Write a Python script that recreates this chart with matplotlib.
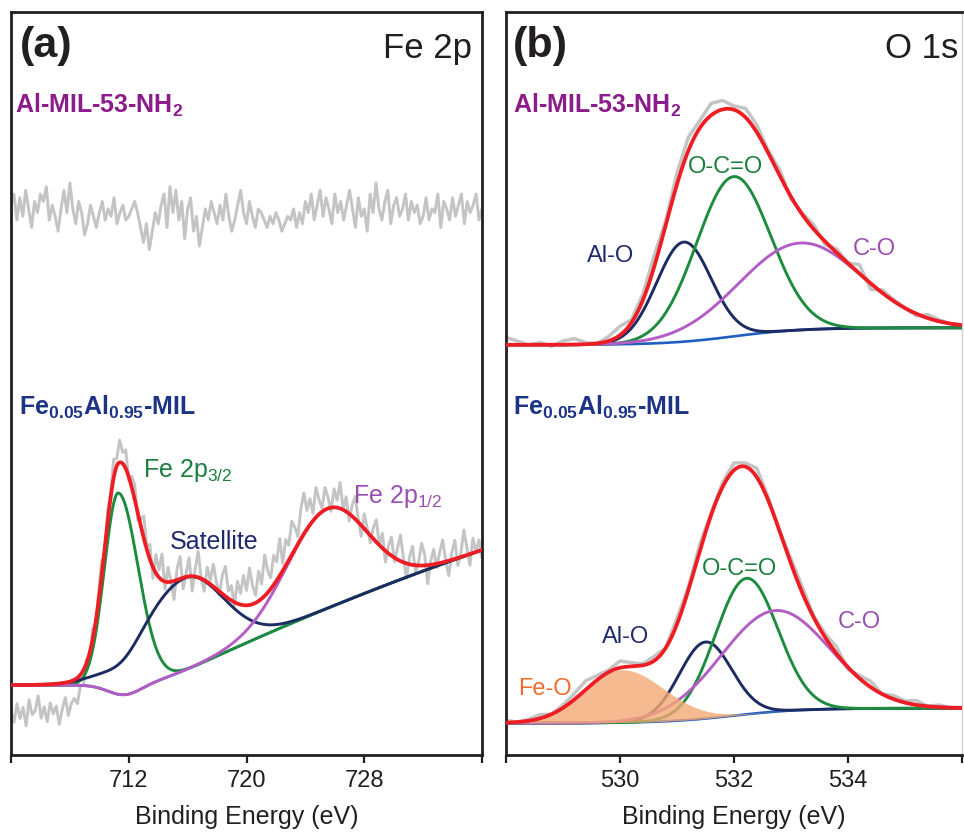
import numpy as np
import matplotlib
matplotlib.use("Agg")
import matplotlib.pyplot as plt

plt.rcParams['font.family'] = ['Liberation Sans', 'DejaVu Sans']
plt.rcParams['mathtext.default'] = 'regular'

INK = '#231f20'

# ---- panel (a) Fe 2p : fitted components (center, height, left/right sigma) ----
a_labels = ['Fe 2p$_{3/2}$', 'Satellite', 'Fe 2p$_{1/2}$']
a_center = [711.3, 715.8, 725.5]
a_height = [27.1, 12.4, 13.4]
a_sig_l = [0.95, 3.0, 2.7]
a_sig_r = [1.35, 2.6, 2.7]
# background: flat level, ramp onset, slopes, small dip
a_bg = dict(level=9.4, onset=713.8, s1=0.957, s2=0.0062, dip=1.4, dip_at=711.7, dip_w=1.1)
a_top_level = 72.5

# raw data scatter around the fits (0.2 eV step, 704..736)
a_top_noise = [1.5, 3.0, -0.5, 2.5, 0.0, 3.5, 1.0, -1.5, 2.0, 0.5, 3.0, 2.0, 4.0, -0.5, 1.5, 0.0,
               -2.0, 1.0, 3.5, 0.5, 4.5, 1.0, -1.0, 2.0, 0.5, -2.5, -1.0, 1.5, 0.0, -1.5, 0.5, 2.0,
               -0.5, 1.0, 0.0, 2.5, -1.0, 0.5, 1.5, -0.5, 0.0, 1.0, 2.0, 0.5, -1.5, -3.5, -1.0, -4.5,
               -2.0, 0.5, -1.0, 1.5, 3.0, -1.5, 4.0, 0.5, 3.5, -0.5, 2.0, -3.0, 1.0, 2.5, -2.0, 0.0,
               -4.0, -1.5, 1.0, -0.5, 2.0, 0.5, -1.0, 1.5, -0.5, 3.0, 0.0, -2.0, -0.5, 1.5, 3.5, 0.5,
               -1.0, 2.0, 0.0, -1.5, 1.0, 0.5, -0.5, -1.5, 0.0, -1.0, 0.5, -0.5, -2.0, -1.0, 0.0, -0.5,
               1.0, -1.5, 0.5, -1.0, 2.0, 0.5, 3.0, -0.5, 1.5, 3.5, 0.0, 2.5, 1.0, -1.0, 3.0, 0.5,
               2.0, -0.5, 1.5, 3.5, 1.0, -1.5, 2.5, 0.0, 1.0, -2.0, 3.0, 0.5, 4.5, 1.0, -0.5, 2.0,
               3.5, -1.0, 1.5, 2.5, 0.0, 1.0, 3.0, -0.5, 2.0, 0.5, 1.5, -1.0, 0.0, 2.5, -0.5, 1.0,
               0.5, 3.0, -1.5, 2.0, 1.0, -0.5, 2.5, 0.0, 1.5, 3.0, -1.0, 2.0, 0.5, 1.5, 3.0, -0.5, 1.0]
a_bot_noise = [-3.5, -5.0, -2.5, -4.5, -3.0, -5.5, -2.0, -4.0, -3.5, -1.5, -4.5, -3.0, -5.0, -2.5,
               -4.0, -3.0, -5.5, -3.5, -2.0, -4.5, -3.0, -2.5, -3.5, -1.5, -2.0, 0.5, -1.0, 1.5,
               -0.5, 1.0, 2.0, -1.0, 1.5, 0.5, 2.5, 1.0, 3.0, 1.5, 2.5, -0.5, 1.5, 2.0, -1.0, 1.0,
               3.0, 0.5, 2.0, -1.5, 2.5, 1.0, 3.5, -1.0, 2.0, 0.0, -2.5, 1.5, 3.0, -1.5, 0.5, 2.5,
               -2.0, 1.0, 3.5, 0.0, -1.5, 2.0, 0.5, 3.0, 1.0, -0.5, 2.5, 4.0, 1.0, 2.0, -0.5, 3.0,
               1.5, 4.0, 2.0, 5.0, 2.5, 1.0, 4.0, 2.0, 5.5, 3.0, 1.5, 4.0, 2.5, 5.0, 1.0, 3.5, 2.0,
               4.5, 3.0, 1.0, 4.0, 5.5, 2.5, 3.5, 1.0, 4.0, 2.0, 0.5, 3.0, 1.5, -0.5, 2.5, 1.0, 3.5,
               0.0, 2.0, -1.0, 1.5, 3.0, 0.5, -1.5, 2.0, 0.5, -1.0, 1.5, 3.0, 0.0, 2.0, -1.5, 1.0,
               2.5, -0.5, 1.5, 3.5, 0.5, -2.0, 1.0, 2.5, -1.0, 0.5, 3.0, 1.5, -2.5, 0.5, 2.0, -0.5,
               1.5, 3.0, 0.0, -2.0, 1.0, 2.5, -1.0, 0.5, 3.5, 1.0, -1.5, 2.0, 0.0, 1.5, -1.0]

# ---- panel (b) O 1s ----
bt_labels = ['Al-O', 'O-C=O', 'C-O']
bt_center = [531.12, 531.99, 533.16]
bt_height = [13.4, 21.5, 11.7]
bt_sigma = [0.48, 0.65, 1.07]
bt_bg = dict(low=55.2, high=57.5, mid=532.0, w=0.6)

bb_labels = ['Fe-O', 'Al-O', 'O-C=O', 'C-O']
bb_center = [530.03, 531.5, 532.22, 532.72]
bb_height = [7.1, 10.3, 18.3, 13.6]
bb_sig_l = [0.65, 0.46, 0.55, 0.95]
bb_sig_r = [0.75, 0.46, 0.55, 0.95]
bb_bg = dict(low=4.3, high=6.3, mid=532.0, w=0.6)

# raw data scatter (0.2 eV step, 528..536)
bt_noise = [1.0, 0.5, 0.0, 0.3, -0.2, 0.5, 0.8, 0.2, 0.0, 0.6, 1.2, 0.4, 0.8, 1.5, 0.6, 1.5,
            1.8, 1.0, 1.6, 1.2, 0.5, 1.2, 1.0, 0.3, 0.8, -0.3, 0.2, 0.6, -0.4, 0.5, 0.0, 1.2,
            -0.8, 0.4, 0.2, 0.0, -0.3, 0.5, 0.2, 0.0, 0.1]
bb_noise = [0.3, 0.0, 0.2, 0.5, 0.0, 0.4, 0.8, 1.2, 0.6, 0.3, 0.9, 0.5, 0.2, 0.6, 0.0, 0.8,
            0.4, 0.9, 0.3, 0.6, 1.0, 0.5, 1.2, 0.4, 0.0, 0.6, 0.8, 0.2, 0.5, 0.9, -0.3, 0.4,
            0.8, 0.0, 0.5, 0.2, 0.6, 0.0, 0.3, 0.0, 0.1]

RED = '#ee1d23'
GREEN = '#1e8c3e'
NAVY = '#1c2c62'
MAGENTA = '#b25ec4'
BLUE = '#1f5fbf'
GRAY = '#c4c4c4'


def peak(e, c, h, sl, sr):
    s = np.where(e < c, sl, sr)
    return h * np.exp(-0.5 * ((e - c) / s) ** 2)


def bg_fe(e, p):
    r = np.logaddexp(0, e - p['onset'])
    dip = p['dip'] * np.exp(-0.5 * ((e - p['dip_at']) / p['dip_w']) ** 2)
    return p['level'] + p['s1'] * r - p['s2'] * r ** 2 - dip


def bg_step(e, p):
    return p['low'] + (p['high'] - p['low']) / (1 + np.exp(-(e - p['mid']) / p['w']))


def style_axes(ax, xlim, ticks):
    ax.set_xlim(*xlim)
    ax.set_ylim(0, 100)
    ax.set_yticks([])
    ax.set_xticks(ticks)
    ax.set_xticklabels(['' if t in xlim else str(t) for t in ticks])
    ax.tick_params(axis='x', direction='out', length=6, width=1.6, colors=INK,
                   labelsize=17, pad=5)
    for s in ax.spines.values():
        s.set_linewidth(2.0)
        s.set_color(INK)
    ax.set_xlabel('Binding Energy (eV)', fontsize=18, color=INK, labelpad=9)


fig = plt.figure(figsize=(9.64, 8.33), dpi=100)
ax_a = fig.add_axes([11 / 964, 78 / 833, 471 / 964, 743 / 833])
ax_b = fig.add_axes([506 / 964, 78 / 833, 456 / 964, 743 / 833])

# ---------------- (a) ----------------
e = np.linspace(704, 736, 1200)
bg = bg_fe(e, a_bg)
comps = [peak(e, c, h, l, r) for c, h, l, r in zip(a_center, a_height, a_sig_l, a_sig_r)]
env = bg + sum(comps)

e_raw = np.linspace(704, 736, len(a_bot_noise))
raw = bg_fe(e_raw, a_bg) + sum(peak(e_raw, c, h, l, r) for c, h, l, r in
                              zip(a_center, a_height, a_sig_l, a_sig_r)) + np.array(a_bot_noise)
ax_a.plot(e_raw, raw, color=GRAY, lw=2.1, zorder=1)
e_top = np.linspace(704, 736, len(a_top_noise))
ax_a.plot(e_top, a_top_level + np.array(a_top_noise), color=GRAY, lw=2.1, zorder=1)

ax_a.plot(e, bg, color=BLUE, lw=1.9, zorder=2)
for comp, col in zip(comps, [GREEN, NAVY, MAGENTA]):
    ax_a.plot(e, bg + comp, color=col, lw=2.1, zorder=3)
ax_a.plot(e, env, color=RED, lw=2.7, zorder=4)

style_axes(ax_a, (704, 736), [704, 712, 720, 728, 736])

ax_a.text(0.019, 0.939, '(a)', transform=ax_a.transAxes, fontsize=31, fontweight='bold', color=INK)
ax_a.text(0.979, 0.938, 'Fe 2p', transform=ax_a.transAxes, fontsize=25, ha='right', color=INK)
ax_a.text(0.0085, 0.864, 'Al-MIL-53-NH$_2$', transform=ax_a.transAxes, fontsize=18,
          fontweight='bold', color='#8c1c8c')
ax_a.text(0.016, 0.4576, 'Fe$_{0.05}$Al$_{0.95}$-MIL', transform=ax_a.transAxes, fontsize=18,
          fontweight='bold', color='#1c3386')
ax_a.text(0.28, 0.374, a_labels[0], transform=ax_a.transAxes, fontsize=18, color='#1b7f3e')
ax_a.text(0.3376, 0.277, a_labels[1], transform=ax_a.transAxes, fontsize=18, color='#1f2a6e')
ax_a.text(0.726, 0.339, a_labels[2], transform=ax_a.transAxes, fontsize=18, color='#9a4fb0')

# ---------------- (b) ----------------
eb = np.linspace(528, 536, 800)
eb_raw = np.linspace(528, 536, len(bt_noise))

# top: Al-MIL-53-NH2
bgt = bg_step(eb, bt_bg)
ct = [peak(eb, c, h, s, s) for c, h, s in zip(bt_center, bt_height, bt_sigma)]
rawt = bg_step(eb_raw, bt_bg) + sum(peak(eb_raw, c, h, s, s) for c, h, s in
                                    zip(bt_center, bt_height, bt_sigma)) + np.array(bt_noise)
ax_b.plot(eb_raw, rawt, color=GRAY, lw=2.5, zorder=1)
ax_b.plot(eb, bgt, color=BLUE, lw=1.9, zorder=2)
for comp, col in zip(ct, [NAVY, GREEN, MAGENTA]):
    ax_b.plot(eb, bgt + comp, color=col, lw=2.1, zorder=3)
ax_b.plot(eb, bgt + sum(ct), color=RED, lw=2.7, zorder=5)

# bottom: Fe0.05Al0.95-MIL
bgb = bg_step(eb, bb_bg)
cb = [peak(eb, c, h, l, r) for c, h, l, r in zip(bb_center, bb_height, bb_sig_l, bb_sig_r)]
rawb = bg_step(eb_raw, bb_bg) + sum(peak(eb_raw, c, h, l, r) for c, h, l, r in
                                    zip(bb_center, bb_height, bb_sig_l, bb_sig_r)) + np.array(bb_noise)
ax_b.plot(eb_raw, rawb, color=GRAY, lw=2.5, zorder=1)
ax_b.plot(eb, bgb, color=BLUE, lw=1.9, zorder=2)
for comp, col in zip(cb[1:], [NAVY, GREEN, MAGENTA]):
    ax_b.plot(eb, bgb + comp, color=col, lw=2.1, zorder=3)
ax_b.fill_between(eb, bgb, bgb + cb[0], color='#f4a974', alpha=0.8, lw=0, zorder=4)
ax_b.plot(eb, bgb + sum(cb), color=RED, lw=2.7, zorder=5)

style_axes(ax_b, (528, 536), [528, 530, 532, 534, 536])
ax_b.spines['right'].set_color('#d0d0d0')
ax_b.spines['right'].set_linewidth(1.0)

ax_b.text(0.015, 0.939, '(b)', transform=ax_b.transAxes, fontsize=31, fontweight='bold', color=INK)
ax_b.text(0.991, 0.938, 'O 1s', transform=ax_b.transAxes, fontsize=25, ha='right', color=INK)
ax_b.text(0.015, 0.864, 'Al-MIL-53-NH$_2$', transform=ax_b.transAxes, fontsize=18,
          fontweight='bold', color='#8c1c8c')
ax_b.text(0.178, 0.664, bt_labels[0], transform=ax_b.transAxes, fontsize=17, color='#1f2a6e')
ax_b.text(0.399, 0.783, bt_labels[1], transform=ax_b.transAxes, fontsize=17, color='#1b7f3e')
ax_b.text(0.761, 0.673, bt_labels[2], transform=ax_b.transAxes, fontsize=17, color='#9a4fb0')

ax_b.text(0.015, 0.4576, 'Fe$_{0.05}$Al$_{0.95}$-MIL', transform=ax_b.transAxes, fontsize=18,
          fontweight='bold', color='#1c3386')
ax_b.text(0.026, 0.081, bb_labels[0], transform=ax_b.transAxes, fontsize=17, color='#f26b2a')
ax_b.text(0.21, 0.151, bb_labels[1], transform=ax_b.transAxes, fontsize=17, color='#1f2a6e')
ax_b.text(0.43, 0.242, bb_labels[2], transform=ax_b.transAxes, fontsize=17, color='#1b7f3e')
ax_b.text(0.728, 0.171, bb_labels[3], transform=ax_b.transAxes, fontsize=17, color='#9a4fb0')

fig.savefig('out.png', dpi=100)
